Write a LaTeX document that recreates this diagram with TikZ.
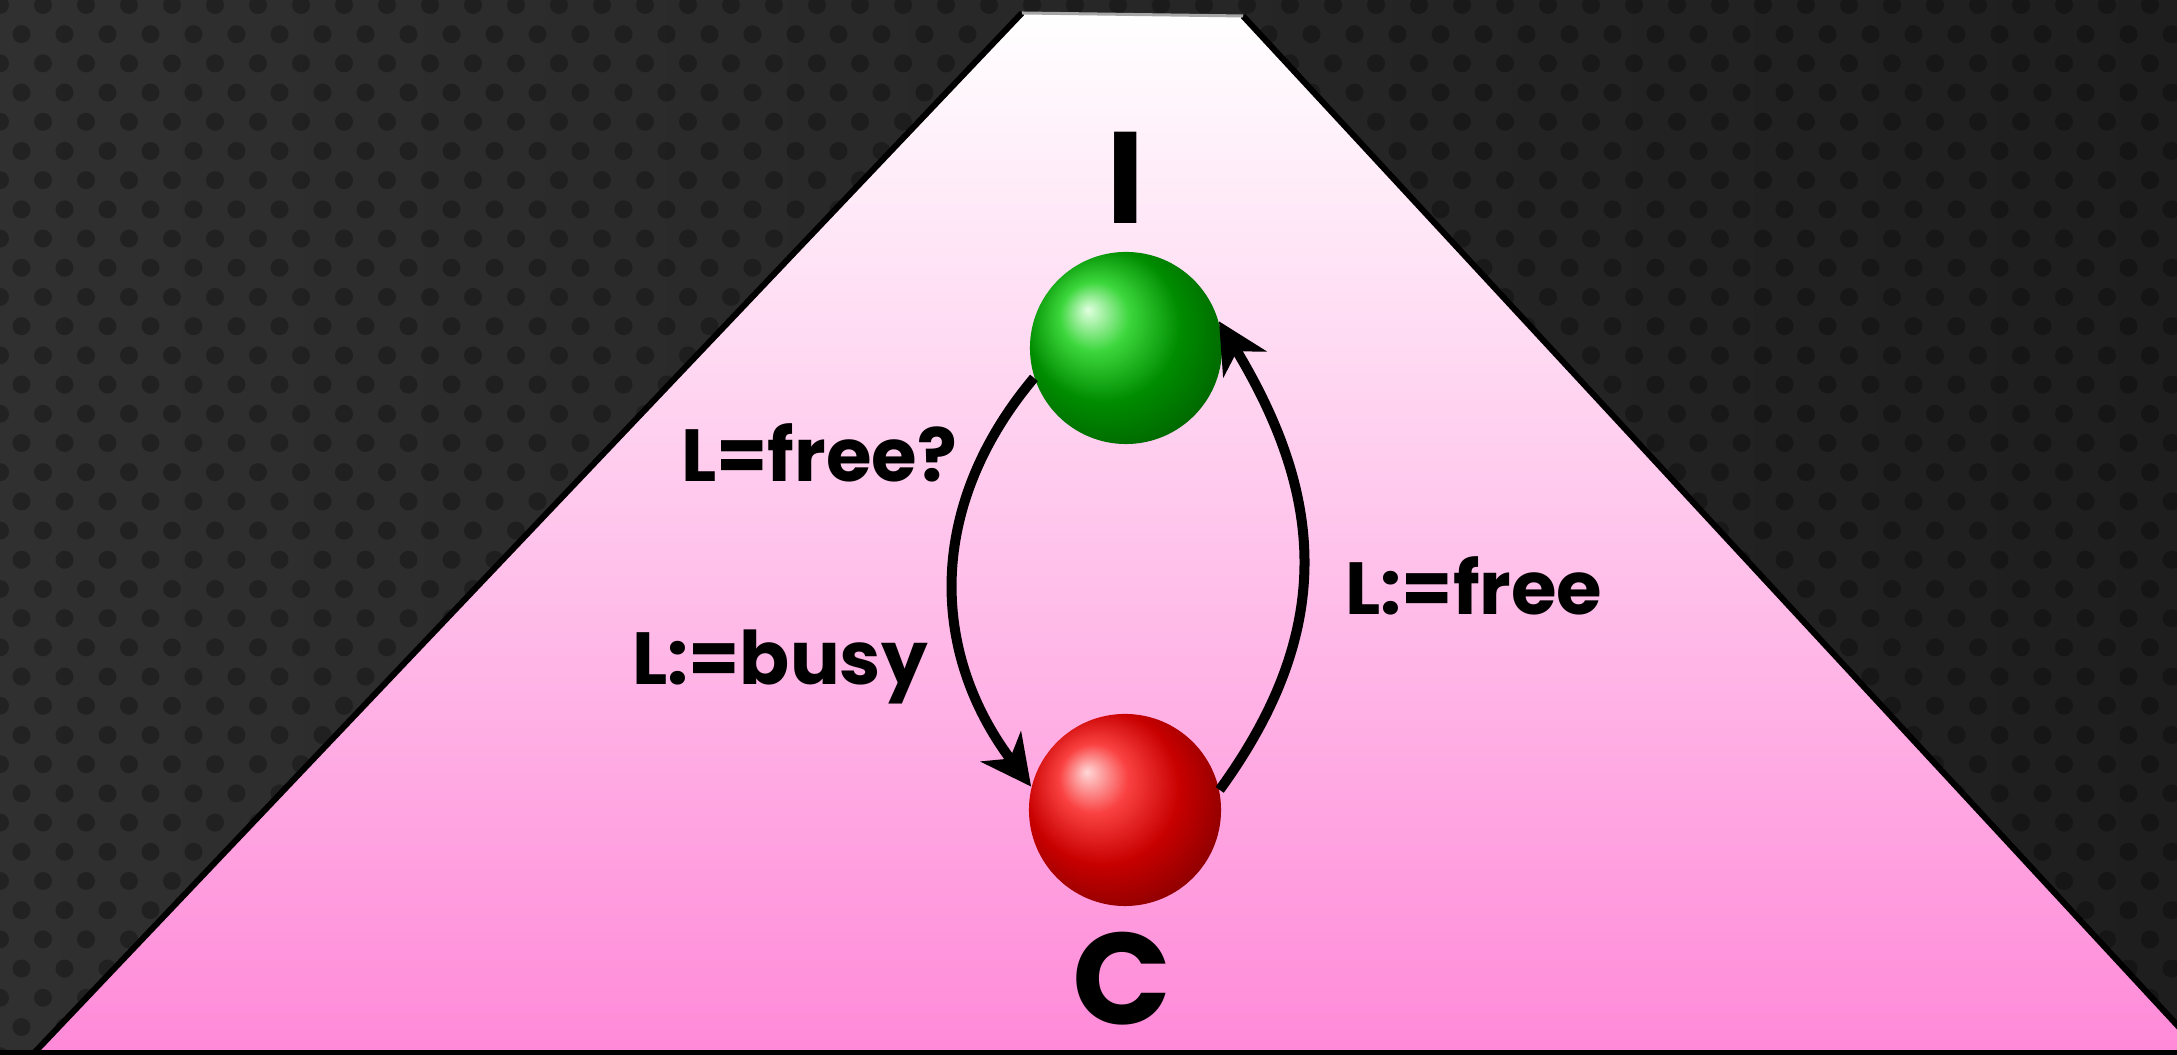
\documentclass[tikz,border=0pt]{standalone}
\usepackage{fontspec}
\setmainfont{Poppins}
\usetikzlibrary{arrows.meta}
\definecolor{bgL}{RGB}{48,48,48}
\definecolor{bgR}{RGB}{30,30,30}
\definecolor{pinkbot}{RGB}{255,138,216}
\definecolor{Ga}{RGB}{225,255,225}
\definecolor{Gb}{RGB}{60,215,60}
\definecolor{Gc}{RGB}{0,140,0}
\definecolor{Gd}{RGB}{0,80,0}
\definecolor{Ra}{RGB}{255,215,215}
\definecolor{Rb}{RGB}{250,65,65}
\definecolor{Rc}{RGB}{200,0,0}
\definecolor{Rd}{RGB}{105,0,0}
\pgfdeclareradialshading{gball}{\pgfpoint{-10bp}{10bp}}{color(0bp)=(Ga); color(9bp)=(Gb); color(20bp)=(Gc); color(38bp)=(Gd); color(50bp)=(Gd)}
\pgfdeclareradialshading{rball}{\pgfpoint{-10bp}{10bp}}{color(0bp)=(Ra); color(9bp)=(Rb); color(20bp)=(Rc); color(38bp)=(Rd); color(50bp)=(Rd)}
\tikzset{
  ball/.style={circle, minimum size=1.92cm, inner sep=0pt},
  trans/.style={line width=0.1cm, -{Stealth[length=0.5cm,width=0.5cm,inset=0.15cm]}},
  lbl/.style={font=\bfseries\fontsize{21}{25}\selectfont, anchor=base, inner sep=0pt},
  big/.style={font=\bfseries\fontsize{37}{44}\selectfont, anchor=base, inner sep=0pt},
  edge/.style={line width=0.06cm, black}
}
\begin{document}
\begin{tikzpicture}[x=0.01cm,y=0.01cm]
\useasboundingbox (0,0) rectangle (2177,1055);
\clip (0,0) rectangle (2177,1055);
% textured background
\shade[left color=bgL, right color=bgR] (0,0) rectangle (2177,1055);
\fill[black, opacity=0.28]
  \foreach \j in {0,...,36} {
    \foreach \i in {-1,...,51} {
      ({43*\i + 21.5*mod(\j,2)}, {1050-29.2*\j}) circle[radius=9]
    }
  };
% stage (trapezoid)
\coordinate (tl) at (1022,1042);
\coordinate (tr) at (1243,1039);
\coordinate (br) at (2202,3);
\coordinate (bl) at (35,3);
\shade[top color=white, bottom color=pinkbot] (tl) -- (tr) -- (br) -- (bl) -- cycle;
\draw[edge] (tr) -- (br);
\draw[edge] (tl) -- (bl);
\draw[line width=0.05cm, black] (0,2.5) -- (2177,2.5);
\draw[line width=0.03cm, gray!70] (tl) -- (tr);
% states
\node[ball, shading=gball] (g) at (1126,707) {};
\node[ball, shading=rball] (r) at (1125,245) {};
\node[big] (lI) at (1126,831) {I};
\node[big] (lC) at (1122,30) {C};
% transitions
\draw[trans] (g.198) to[out=230, in=127, looseness=1.05] (r.166);
\draw[trans] (r.12) to[out=54, in=301, looseness=1.1] (g.16);
\node[lbl] (t1) at (819,573) {L=free?};
\node[lbl] (t2) at (780,370) {L:=busy};
\node[lbl] (t3) at (1474,440) {L:=free};
\end{tikzpicture}
\end{document}
